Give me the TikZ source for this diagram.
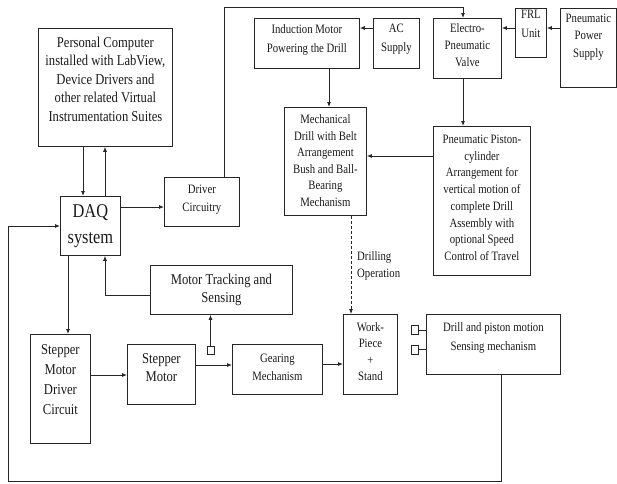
\documentclass[tikz,border=0pt]{standalone}
\usepackage{fontspec}
\newfontfamily\diafont[FakeStretch=0.84]{Liberation Serif}
\usetikzlibrary{arrows.meta}
\tikzset{
  blk/.style={draw=black!85, line width=0.8pt, inner sep=0pt, align=center, anchor=north west, text=black!90},
  dims/.style n args={3}{minimum width=#1pt, text height=#2pt, text depth=#3pt},
  bigtxt/.style={font=\diafont\fontsize{15}{#1}\selectfont},
  smalltxt/.style={font=\diafont\fontsize{12.8}{#1}\selectfont},
  arr/.style={draw=black!85, line width=0.8pt, -{Latex[length=5pt,width=4pt]}},
  pad/.style={draw=black!85, line width=0.8pt, inner sep=0pt, minimum width=7pt, minimum height=9pt},
}
\begin{document}
\begin{tikzpicture}[x=1pt,y=-1pt]
\useasboundingbox (0,0) rectangle (617,483);
% computer side
\node[blk, bigtxt=18.5, dims={134}{93}{25}] (pc) at (38,28) {Personal Computer\\installed with LabView,\\Device Drivers and\\other related Virtual\\Instrumentation Suites};
\node[blk, font=\diafont\fontsize{19.5}{26}\selectfont, dims={60}{47}{12}] (daq) at (60,196) {DAQ\\system};
\node[blk, smalltxt=18, dims={75}{34}{15}] (drv) at (164,177) {Driver\\Circuitry};
% drill and pneumatics
\node[blk, smalltxt=19, dims={105}{34}{16}] (ind) at (254,18) {Induction Motor\\Powering the Drill};
\node[blk, smalltxt=19, dims={46}{33}{17}] (ac) at (373,18) {AC\\Supply};
\node[blk, smalltxt=17, dims={68}{48}{12}] (valve) at (433,18) {Electro-\\Pneumatic\\Valve};
\node[blk, smalltxt=19, dims={31}{29}{20}] (frl) at (515,8) {FRL\\Unit};
\node[blk, smalltxt=17.5, dims={56}{49}{30}] (pps) at (560,8) {Pneumatic\\Power\\Supply};
\node[blk, smalltxt=16.6, dims={82}{99}{9}] (drill) at (284,107) {Mechanical\\Drill with Belt\\Arrangement\\Bush and Ball-\\Bearing\\Mechanism};
\node[blk, smalltxt=16.7, dims={97}{134}{15}] (piston) at (433,126) {Pneumatic Piston-\\cylinder\\Arrangement for\\vertical motion of\\complete Drill\\Assembly with\\optional Speed\\Control of Travel};
\node[blk, smalltxt=16.5, dims={54}{66.5}{13.5}] (work) at (343,314) {Work-\\Piece\\+\\Stand};
\node[blk, smalltxt=19, dims={134}{36}{24}] (sense) at (426,314) {Drill and piston motion\\Sensing mechanism};
% stepper side
\node[blk, bigtxt=18, dims={142}{37}{12}] (track) at (150,265) {Motor Tracking and\\Sensing};
\node[blk, bigtxt=20, dims={60}{80}{29}] (smd) at (30,334) {Stepper\\Motor\\Driver\\Circuit};
\node[blk, bigtxt=18, dims={68}{37}{23}] (stm) at (127,344) {Stepper\\Motor};
\node[blk, smalltxt=18, dims={90}{36}{14}] (gear) at (232,344) {Gearing\\Mechanism};
\node[pad] (sq1) at (414.5,330) {};
\node[pad] (sq2) at (414.5,349.5) {};
\node[pad, minimum height=8pt] (sq3) at (210.5,350) {};
\node[smalltxt=17, align=left, anchor=base west, inner sep=0pt, text=black!90] (drillop) at (357,277) {Drilling\\Operation};

\draw[arr] (pc.south -| 83,0) -- (daq.north -| 83,0);
\draw[arr] (daq.north -| 105,0) -- (pc.south -| 105,0);
\draw[arr] (daq.east |- 0,207) -- (drv.west |- 0,207);
\draw[arr] (drv.north -| 224,0) |- (463,7) -- (valve.north -| 463,0);
\draw[arr] (ac.west |- 0,28) -- (ind.east |- 0,28);
\draw[arr] (frl.west |- 0,28) -- (valve.east |- 0,28);
\draw[arr] (pps.west |- 0,28) -- (frl.east |- 0,28);
\draw[arr] (ind.south -| 329,0) -- (drill.north -| 329,0);
\draw[arr] (valve.south -| 463,0) -- (piston.north -| 463,0);
\draw[arr] (piston.west |- 0,156) -- (drill.east |- 0,156);
\draw[arr, dash pattern=on 3pt off 2pt] (drill.south -| 351,0) -- (work.north -| 351,0);
\draw[arr] (gear.east |- 0,364) -- (work.west |- 0,364);
\draw[arr] (smd.east |- 0,375) -- (stm.west |- 0,375);
\draw[arr] (stm.east |- 0,365) -- (gear.west |- 0,365);
\draw[arr] (sq3.north) -- (track.south -| sq3.north);
\draw[arr] (track.west |- 0,295) -| (daq.south -| 105,0);
\draw[arr] (daq.south -| 68,0) -- (smd.north -| 68,0);
\draw[draw=black!85, line width=0.8pt] (sq1.east) -- (sq1.east -| sense.west);
\draw[draw=black!85, line width=0.8pt] (sq2.east) -- (sq2.east -| sense.west);
\draw[arr] (sense.south -| 501,0) |- (8,481) |- (daq.west |- 0,226);
\end{tikzpicture}
\end{document}
